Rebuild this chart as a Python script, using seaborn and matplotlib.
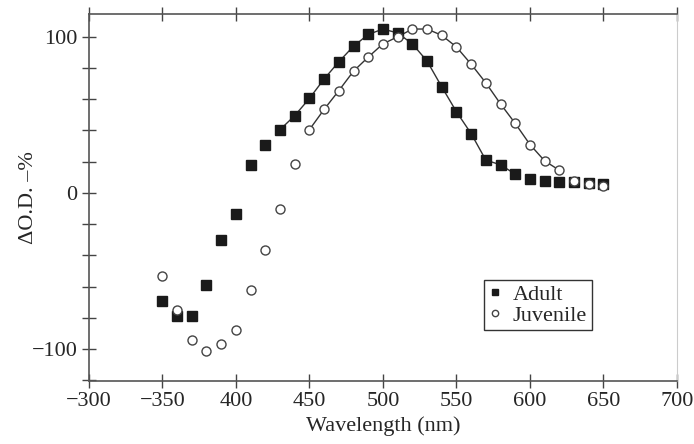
import numpy as np
import pandas as pd
import matplotlib
matplotlib.use("Agg")
import matplotlib.pyplot as plt
import seaborn as sns
from matplotlib.ticker import MultipleLocator

# wavelengths (nm)
wavelength = [350, 360, 370, 380, 390, 400, 410, 420, 430, 440, 450, 460, 470, 480,
              490, 500, 510, 520, 530, 540, 550, 560, 570, 580, 590, 600, 610, 620,
              630, 640, 650]

adult = [-69, -79, -79, -59, -30, -13.5, 18, 31, 40.5, 49.5, 60.5, 73, 84, 94,
         101.5, 105, 102.5, 95.5, 84.5, 68, 52, 38, 21, 18, 12, 9, 7.7, 7.2,
         6.9, 6.4, 6.0]
juvenile = [-53, -75, -94, -101.5, -97, -88, -62, -36.5, -10.5, 18.5, 40.5, 53.5,
            65.5, 78, 87, 95.5, 100, 105, 105, 101, 93.5, 82.5, 70.5, 57, 44.5,
            31, 20.5, 14.5, 7.5, 6, 4.5]

# range covered by the fitted curves
adult_fit = (430, 590)
juv_fit = (450, 620)

x_ticks = [300, 350, 400, 450, 500, 550, 600, 650, 700]
x_labels = ["\u2212300", "\u2212350", "400", "450", "500", "550", "600", "650", "700"]
y_ticks = [-100, 0, 100]
y_labels = ["\u2212100", "0", "100"]

df = pd.DataFrame({"wl": wavelength, "Adult": adult, "Juvenile": juvenile})

sns.set_style("ticks")
plt.rcParams["font.family"] = ["Liberation Serif", "DejaVu Serif"]
FS = 16

fig = plt.figure(figsize=(6.94, 4.44), dpi=100)
ax = fig.add_axes([0.128, 0.142, 0.8475, 0.826])

# fitted curves
a = df[(df.wl >= adult_fit[0]) & (df.wl <= adult_fit[1])]
j = df[(df.wl >= juv_fit[0]) & (df.wl <= juv_fit[1])]
sns.lineplot(x=a.wl, y=a.Adult, ax=ax, color="#333333", lw=1.0)
sns.lineplot(x=j.wl, y=j.Juvenile, ax=ax, color="#333333", lw=1.0)

# points
ax.plot(df.wl, df.Adult, ls="none", marker="s", ms=6.5, mfc="#1a1a1a",
        mec="#1a1a1a", label="Adult", zorder=3)
ax.plot(df.wl, df.Juvenile, ls="none", marker="o", ms=6.5, mfc="white",
        mec="#444444", mew=1.0, label="Juvenile", zorder=3)

ax.set_xlim(300, 700)
ax.set_ylim(-120.5, 114.5)
ax.set_xticks(x_ticks)
ax.set_xticklabels(x_labels)
ax.set_yticks(y_ticks)
ax.set_yticklabels(y_labels)
ax.yaxis.set_minor_locator(MultipleLocator(20))

ax.tick_params(axis="both", which="major", direction="inout", length=10,
               width=1.0, color="#444444", labelsize=FS, pad=3)
ax.tick_params(axis="y", which="minor", direction="inout", length=10,
               width=1.0, color="#444444")
ax.tick_params(axis="x", top=True)

for side in ["left", "bottom", "top"]:
    ax.spines[side].set_color("#555555")
    ax.spines[side].set_linewidth(1.2)
ax.spines["right"].set_color("#cccccc")
ax.spines["right"].set_linewidth(0.8)

ax.set_xlabel("Wavelength (nm)", fontsize=FS, labelpad=4)
ax.set_ylabel("\u0394O.D. \u2013%", fontsize=FS)
ax.yaxis.set_label_coords(-0.087, 0.5)

leg = ax.legend(loc="lower left", bbox_to_anchor=(0.672, 0.139), fontsize=FS,
                frameon=True, fancybox=False, handlelength=0.6, handletextpad=0.5,
                borderpad=0.2, labelspacing=0.0, markerscale=0.7,
                borderaxespad=0)
leg.get_frame().set_edgecolor("black")
leg.get_frame().set_linewidth(1.0)

fig.savefig("out.png", dpi=100)
